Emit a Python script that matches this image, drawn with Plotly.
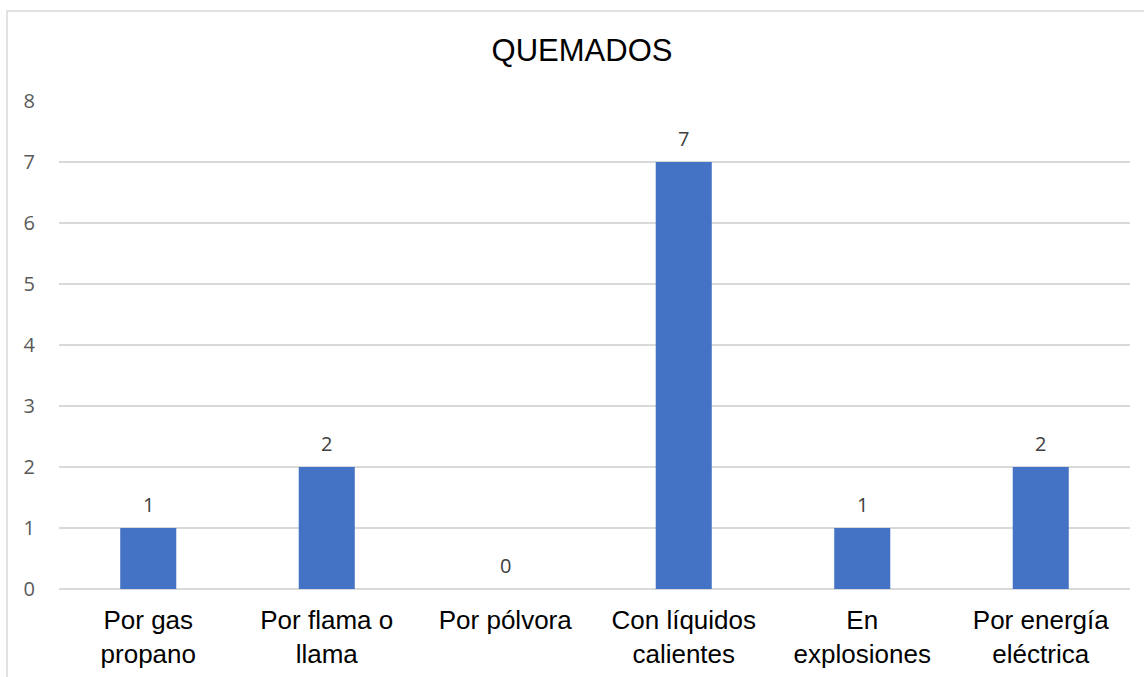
import plotly.graph_objects as go

categories = ["Por gas<br>propano", "Por flama o<br>llama", "Por pólvora",
              "Con líquidos<br>calientes", "En<br>explosiones", "Por energía<br>eléctrica"]
values = [1, 2, 0, 7, 1, 2]
y_ticks = [0, 1, 2, 3, 4, 5, 6, 7, 8]

L, R, T, B = 59, 14, 101, 88
W, H = 1144, 677
pw, ph = W - L - R, H - T - B

fig = go.Figure(go.Bar(
    x=categories, y=values,
    marker=dict(color="#4472c4", line=dict(width=0)),
))

for c, v in zip(categories, values):
    fig.add_annotation(x=c, y=v, text=str(v), showarrow=False, yshift=24,
                       font=dict(family="Open Sans", size=20, color="#404040"))

# chart frame
fig.add_shape(type="rect", xref="paper", yref="paper",
              x0=(7 - L) / pw, x1=(1160 - L) / pw,
              y0=-(720 - (H - B)) / ph, y1=1 + (T - 11) / ph,
              line=dict(color="#d9d9d9", width=1.5), layer="below")

fig.update_layout(
    width=W, height=H,
    margin=dict(l=L, r=R, t=T, b=B, autoexpand=False),
    paper_bgcolor="white", plot_bgcolor="white",
    bargap=0.686,
    showlegend=False,
    title=dict(text="QUEMADOS", x=582 / W, xanchor="center", y=1 - 50 / H, yanchor="middle",
               font=dict(family="Liberation Sans", size=31, color="#000000")),
    xaxis=dict(showgrid=False, showline=False, ticks="", automargin=False,
               tickfont=dict(family="Liberation Sans", size=26, color="#000000"),
               ticklabelstandoff=13),
    yaxis=dict(range=[0, 8], tickvals=y_ticks, showgrid=True, gridcolor="#d9d9d9",
               gridwidth=1.5, zeroline=True, zerolinecolor="#d9d9d9", zerolinewidth=1.5,
               automargin=False,
               tickfont=dict(family="Open Sans", size=20, color="#595959"),
               ticklabelstandoff=23),
)

fig.write_html("out.html", config={"displayModeBar": False},
               post_script="document.body.style.margin='0';")
